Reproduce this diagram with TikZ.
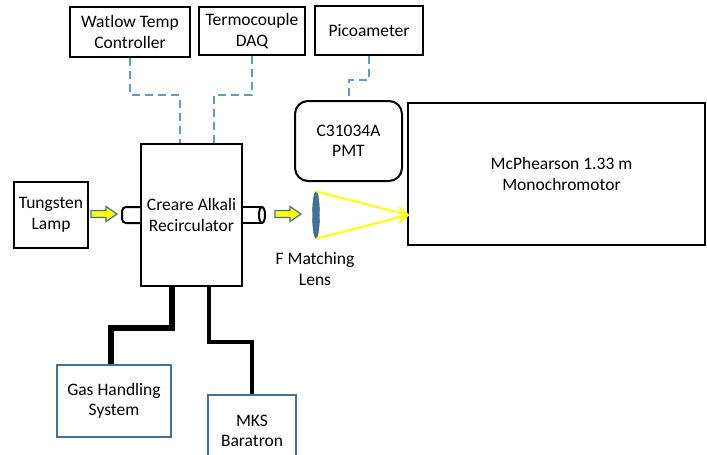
\documentclass[tikz,border=0pt]{standalone}
\usepackage{fontspec}
\setmainfont{Carlito}
\usetikzlibrary{shapes.geometric}

\definecolor{linkblue}{HTML}{5B9BD5}
\definecolor{edgeblue}{HTML}{41719C}
\definecolor{lightyellow}{HTML}{FFFF00}

\begin{document}
\begin{tikzpicture}[x=1pt, y=-1pt,
    every node/.style={font=\fontsize{17.5}{20.5}\selectfont, align=center},
    blackbox/.style={draw=black, line width=2pt, fill=white, inner sep=0pt},
    bluebox/.style={draw=edgeblue, line width=1.5pt, fill=white, inner sep=0pt},
    signal/.style={draw=linkblue, line width=2pt, dash pattern=on 8pt off 5pt},
    feedline/.style={draw=black, line width=6pt},
    gaugeline/.style={draw=black, line width=3.5pt},
    portline/.style={draw=black, line width=2pt, fill=white},
    beamarrow/.style={draw=edgeblue, fill=lightyellow, line width=1.2pt, line join=miter},
    beam/.style={draw=lightyellow, line width=2pt}]
    \useasboundingbox (0,0) rectangle (707,455);

    % TOP ROW: INSTRUMENTS
    \node[blackbox, minimum width=120pt, minimum height=50pt] (watlow) at (130,32) {Watlow Temp\\Controller};
    \node[blackbox, minimum width=106pt, minimum height=48pt] (termo) at (252,31) {Termocouple\\DAQ};
    \node[blackbox, minimum width=108pt, minimum height=49pt] (pico) at (369,30.5) {Picoameter};

    % MIDDLE ROW
    \node[blackbox, minimum width=74pt, minimum height=66pt] (lamp) at (51,215) {Tungsten\\Lamp};
    \node[blackbox, minimum width=101pt, minimum height=142pt] (creare) at (191.5,215) {Creare Alkali\\Recirculator};
    \node[blackbox, rounded corners=13pt, minimum width=107pt, minimum height=80pt] (pmt) at (348.5,141) {C31034A\\PMT};
    \node[blackbox, minimum width=297pt, minimum height=142pt] (mono) at (556.5,174) {\hspace*{10pt}McPhearson 1.33 m\\\hspace*{10pt}Monochromotor};

    % Ports on the recirculator
    \draw[portline, rounded corners=4pt]
        ([yshift=8]creare.west) -- ++(-18,0) -- ++(0,16) -- ([yshift=-8]creare.west);
    \draw[portline]
        ([yshift=8]creare.east) -- ++(19,0) -- ++(0,16) -- ([yshift=-8]creare.east);
    \draw[portline] ([xshift=19]creare.east) ellipse (3pt and 8pt);

    % Light path
    \foreach \ax in {91,275} {
        \draw[beamarrow] (\ax,210.5) -- ++(15,0) -- ++(0,-4) -- ++(11,7.5) -- ++(-11,7.5)
            -- ++(0,-4) -- ++(-15,0) -- cycle;
    }
    \node[ellipse, fill=edgeblue, draw=edgeblue!80!black, minimum width=7pt, minimum height=47pt, inner sep=0pt] (lens) at (316,215) {};
    \node (lenslabel) at (315,269) {F Matching\\Lens};
    \coordinate (focus) at (408,215);
    \draw[beam] (lens.north) -- (focus);
    \draw[beam] (lens.south) -- (focus);
    \draw[beam] ([shift={(-9,8)}]focus) -- (focus) -- ([shift={(-9,-8)}]focus);

    % Signal cables
    \draw[signal] (watlow.south) -- ++(0,37) -| ([xshift=-12]creare.north);
    \draw[signal] (termo.south) -- ++(0,39) -| ([xshift=22]creare.north);
    \draw[signal] (pico.south) -- ++(0,24) -| (pmt.north);

    % BOTTOM ROW: GAS SYSTEM
    \node[bluebox, minimum width=114pt, minimum height=72pt] (gas) at (114,401) {Gas Handling\\System};
    \node[bluebox, minimum width=88pt, minimum height=90pt, text depth=18pt] (mks) at (252,440) {MKS\\Baratron};
    \draw[feedline] ([xshift=-20]creare.south) -- ++(0,41) -| ([xshift=-3]gas.north);
    \draw[gaugeline] ([xshift=17.5]creare.south) -- ++(0,55) -| (mks.north);
\end{tikzpicture}
\end{document}
